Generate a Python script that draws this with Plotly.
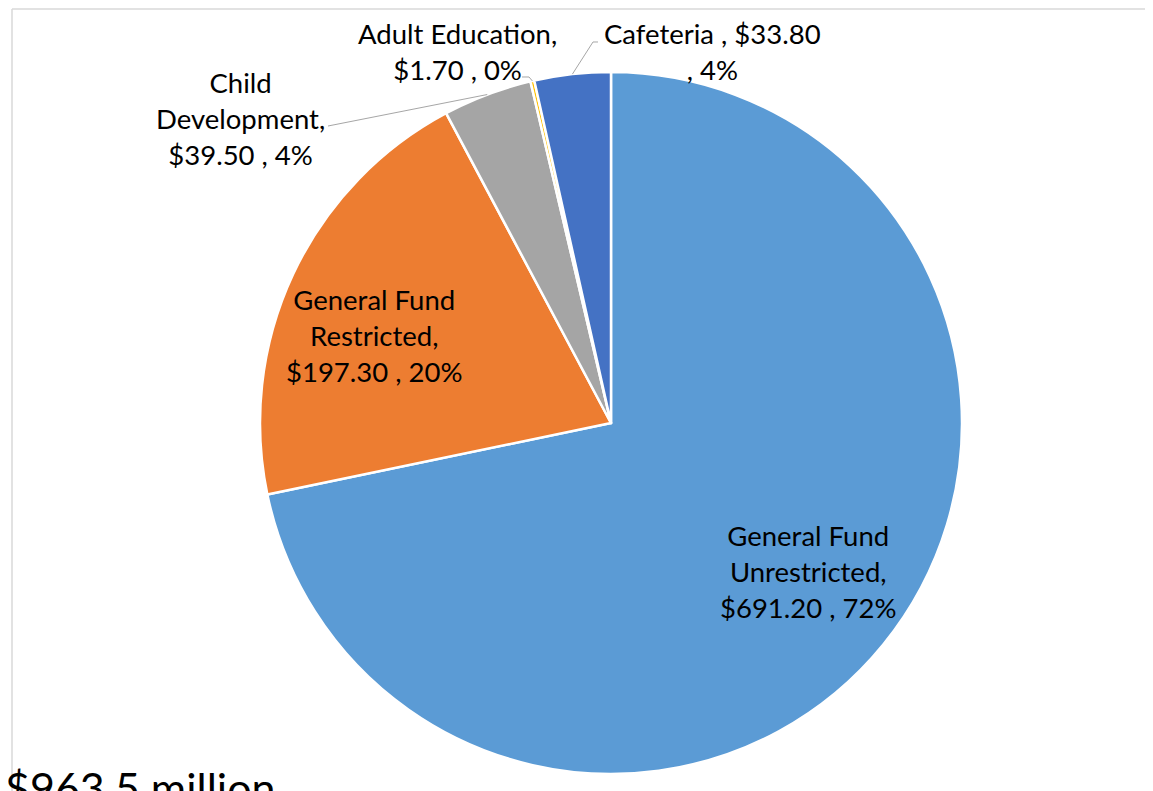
import math
import plotly.graph_objects as go

# ---- data ----
categories = ["General Fund Unrestricted", "General Fund Restricted",
              "Child Development", "Adult Education", "Cafeteria"]
values = [691.20, 197.30, 39.50, 1.70, 33.80]
colors = ["#5B9BD5", "#ED7D31", "#A5A5A5", "#FFC000", "#4472C4"]
label_formats = [
    "General Fund<br>Unrestricted,<br>${v:.2f} , {p}%",
    "General Fund<br>Restricted,<br>${v:.2f} , {p}%",
    "Child<br>Development,<br>${v:.2f} , {p}%",
    "Adult Education,<br>${v:.2f} , {p}%",
    "Cafeteria , ${v:.2f}<br>, {p}%",
]
total_text = "$963.5 million"

# ---- layout geometry (pixels in the reference picture) ----
W, H = 1153, 791
OFF = 8  # page body margin
CX, CY, R = 611, 423, 351
label_pos = [(808, 571), (374, 335), (240, 118), (457, 51), (712, 51)]
leader_ends = [None, None, [(328, 126)], [(522, 77), (529, 77)], [(598, 42), (593, 42)]]

FONT = "Lato"
FS = 27.5

def px(x):
    return (x - OFF) / W

def py(y):
    return 1 - (y - OFF) / H

total = sum(values)

fig = go.Figure(go.Pie(
    labels=categories,
    values=values,
    sort=False,
    direction="clockwise",
    rotation=0,
    marker=dict(colors=colors, line=dict(color="white", width=2.5)),
    textinfo="none",
    hoverinfo="label+value+percent",
    showlegend=False,
    domain=dict(x=[px(CX - R), px(CX + R)], y=[py(CY + R), py(CY - R)]),
))

annotations = []
shapes = []
cum = 0.0
for i, (name, v) in enumerate(zip(categories, values)):
    pct = round(v / total * 100)
    text = label_formats[i].format(v=v, p=pct)
    lx, ly = label_pos[i]
    annotations.append(dict(
        x=px(lx), y=py(ly), xref="paper", yref="paper", text=text,
        showarrow=False, xanchor="center", yanchor="middle", align="center",
        font=dict(family=FONT, size=FS, color="#000000"),
    ))
    mid = (cum + v / 2) / total * 2 * math.pi
    cum += v
    if leader_ends[i]:
        ex = CX + R * math.sin(mid)
        ey = CY - R * math.cos(mid)
        pts = leader_ends[i] + [(ex, ey)]
        path = "M " + " L ".join(f"{px(a):.5f},{py(b):.5f}" for a, b in pts)
        shapes.append(dict(type="path", xref="paper", yref="paper", path=path,
                           line=dict(color="#A6A6A6", width=1)))

# frame (top and left edges only; the rest lies outside the picture)
frame = dict(color="#D9D9D9", width=1.5)
shapes.append(dict(type="line", xref="paper", yref="paper", layer="below",
                   x0=px(12), x1=1.2, y0=py(9), y1=py(9), line=frame))
shapes.append(dict(type="line", xref="paper", yref="paper", layer="below",
                   x0=px(12), x1=px(12), y0=py(9), y1=-0.2, line=frame))

annotations.append(dict(
    x=px(3), y=py(760), xref="paper", yref="paper", text=total_text,
    showarrow=False, xanchor="left", yanchor="top",
    font=dict(family=FONT, size=43, color="#000000"),
))

fig.update_layout(
    width=W, height=H,
    margin=dict(l=0, r=0, t=0, b=0),
    paper_bgcolor="white", plot_bgcolor="white",
    annotations=annotations, shapes=shapes,
)

fig.write_html("out.html", config={"displayModeBar": False})
